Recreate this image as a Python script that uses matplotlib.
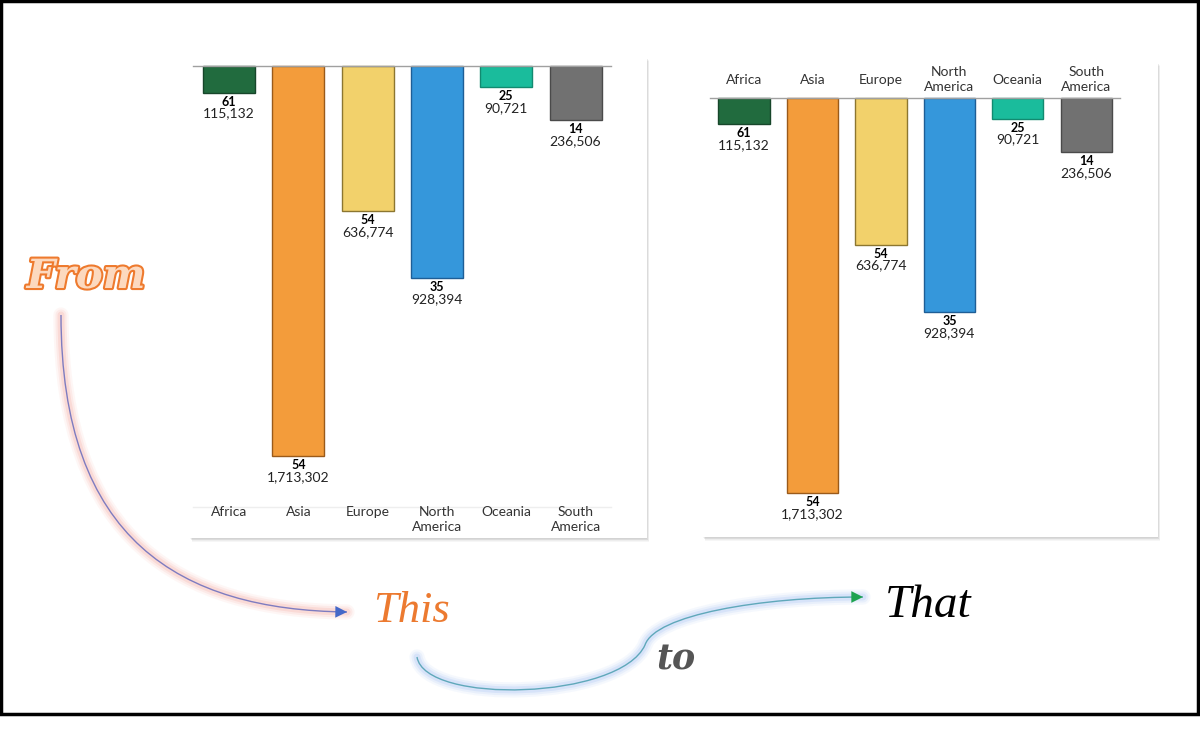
import numpy as np
import matplotlib
matplotlib.use("Agg")
import matplotlib.pyplot as plt
from matplotlib.patches import Rectangle, FancyArrowPatch, PathPatch
from matplotlib.path import Path
import matplotlib.patheffects as pe

# data
continents = ["Africa", "Asia", "Europe", "North\nAmerica", "Oceania", "South\nAmerica"]
countries = [61, 54, 54, 35, 25, 14]
population = [115132, 1713302, 636774, 928394, 90721, 236506]
bar_colors = ["#216B3E", "#F39C3B", "#F2D16B", "#3597DB", "#1ABC9C", "#717171"]
edge_colors = ["#17462A", "#9A5A1A", "#8C7630", "#1E5E96", "#128A70", "#4A4A4A"]

W, H = 1200, 735
LABEL_FONT = ["Lato", "DejaVu Sans"]

fig = plt.figure(figsize=(12, 7.35), dpi=100)
bg = fig.add_axes([0, 0, 1, 1])
bg.set_xlim(0, W)
bg.set_ylim(H, 0)
bg.axis("off")

# black frame round the picture
bg.add_patch(Rectangle((1, 1), W - 3, 713, fill=False, lw=2.5, edgecolor="black"))


def px_box(x0, y0, x1, y1):
    return [x0 / W, 1 - y1 / H, (x1 - x0) / W, (y1 - y0) / H]


def card_shadow(x0, y0, x1, y1):
    # soft grey shadow under the white card
    for i in range(1, 6):
        bg.add_patch(Rectangle((x0 + i * 0.4, y0 + i * 0.8), x1 - x0, y1 - y0,
                               facecolor="black", edgecolor="none", alpha=0.035))


def draw_chart(box, xlim, ylim, zero_span, labels_on_top):
    card_shadow(*box)
    ax = fig.add_axes(px_box(*box))
    ax.set_facecolor("white")
    x = np.arange(len(continents))
    ax.bar(x, population, width=0.75, color=bar_colors, edgecolor=edge_colors,
           linewidth=1, zorder=3)
    ax.set_xlim(*xlim)
    ax.set_ylim(*ylim)
    ax.set_xticks([])
    ax.set_yticks([])
    for s in ax.spines.values():
        s.set_visible(False)
    ax.axhline(0, zero_span[0], zero_span[1], color="#A0A0A0", lw=1, zorder=4)

    for xi, n, p in zip(x, countries, population):
        ax.annotate(str(n), (xi, p), xytext=(0, -3), textcoords="offset pixels",
                    ha="center", va="top", fontsize=9, weight="bold", family=LABEL_FONT)
        ax.annotate(f"{p:,}", (xi, p), xytext=(0, -15), textcoords="offset pixels",
                    ha="center", va="top", fontsize=10, family=LABEL_FONT, color="#222222")

    if labels_on_top:
        for xi, c in zip(x, continents):
            ax.annotate(c, (xi, 0), xytext=(0, 18), textcoords="offset pixels",
                        ha="center", va="center", fontsize=10, family=LABEL_FONT,
                        color="#333333", linespacing=1.25)
    else:
        ax.axhline(ylim[0] * 0.935, zero_span[0], zero_span[1], color="#EEEEEE", lw=1)
        for xi, c in zip(x, continents):
            ax.text(xi, 0.066, c, transform=ax.get_xaxis_transform(), ha="center",
                    va="top", fontsize=10, family=LABEL_FONT, color="#333333",
                    linespacing=1.25)
    return ax


# "from" chart: labels at the bottom
draw_chart((190, 57, 647, 538), (-0.563, 6.03), (2.072e6, -4.09e4), (0.007, 0.921), False)
# "to" chart: labels above the zero line
draw_chart((703, 62, 1158, 537), (-0.60, 6.05), (1.905e6, -1.548e5), (0.015, 0.916), True)


def glow_arrow(verts, codes, line_color, glow_color, head_color):
    path = Path(verts, codes)
    for lw, a in [(11, 0.07), (8, 0.1), (5, 0.16)]:
        bg.add_patch(PathPatch(path, fill=False, lw=lw, edgecolor=glow_color,
                               alpha=a, capstyle="round"))
    bg.add_patch(PathPatch(path, fill=False, lw=1, edgecolor=line_color))
    bg.add_patch(FancyArrowPatch(path=path, arrowstyle="-|>,head_length=0.7,head_width=0.35",
                                 mutation_scale=12, lw=0, color=head_color))


C = Path.CURVE4
glow_arrow([(61, 315), (61, 540), (180, 610), (347, 612)],
           [Path.MOVETO, C, C, C], "#7E7CC0", "#F28A7A", "#4468C8")
glow_arrow([(417, 657), (425, 705), (620, 700), (645, 645),
            (655, 615), (760, 597), (863, 597)],
           [Path.MOVETO, C, C, C, C, C, C], "#5FA8BA", "#7FA8F0", "#1FA350")

# words
bg.text(86, 277, "From", fontsize=29, family="DejaVu Serif", style="italic",
        weight="bold", color="#FCD9BF", ha="center", va="center",
        path_effects=[pe.withStroke(linewidth=3, foreground="#EE7A2E")])
bg.text(411, 611, "This", fontsize=32, family="Liberation Serif", style="italic",
        color="#EC7A30", ha="center", va="center")
bg.text(676, 659, "to", fontsize=25, family="DejaVu Serif", style="italic",
        weight="bold", color="#555555", ha="center", va="center")
bg.text(928, 606, "That", fontsize=34, family="Liberation Serif", style="italic",
        color="black", ha="center", va="center")

fig.savefig("out.png", dpi=100, facecolor="white")
